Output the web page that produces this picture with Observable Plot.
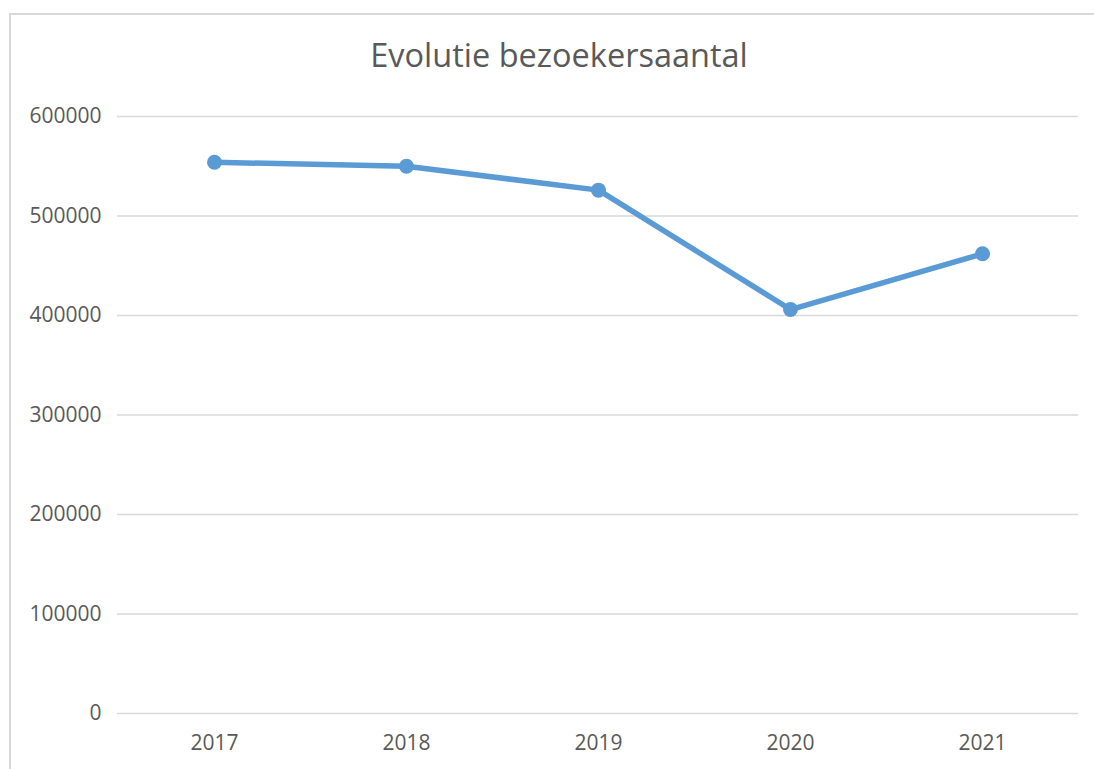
<!DOCTYPE html>
<html>
<head>
<meta charset="utf-8">
<script src="https://cdn.jsdelivr.net/npm/d3@7"></script>
<script src="https://cdn.jsdelivr.net/npm/@observablehq/plot@0.6"></script>
<style>
  body { margin: 0; background: #fff; width: 1094px; height: 769px; overflow: hidden; position: relative; font-family: "Open Sans", sans-serif; }
  #frame { position: absolute; left: 9px; top: 13px; width: 1200px; height: 900px; border-left: 2px solid #d9d9d9; border-top: 2px solid #d9d9d9; box-sizing: border-box; }
  #title { position: absolute; left: 0; width: 1118px; top: 39px; text-align: center; font-size: 32.5px; color: #595959; line-height: 1; }
  #chart { position: absolute; left: 0; top: 90px; }
</style>
</head>
<body>
<div id="frame"></div>
<div id="title">Evolutie bezoekersaantal</div>
<div id="chart"></div>
<script>
const years = ["2017", "2018", "2019", "2020", "2021"];
const visitors = [554000, 550000, 526000, 406000, 462000];
const yTicks = [0, 100000, 200000, 300000, 400000, 500000, 600000];

const data = years.map((y, i) => ({year: y, value: visitors[i]}));

const chart = Plot.plot({
  width: 1094,
  height: 679,
  marginTop: 26,
  marginBottom: 56,
  marginLeft: 117,
  marginRight: 16,
  style: {fontFamily: "Open Sans, sans-serif", fontSize: "21px", color: "#595959", background: "transparent"},
  x: {type: "point", domain: years, padding: 0.5, align: 0.5, label: null},
  y: {domain: [0, 600000], ticks: yTicks, label: null},
  marks: [
    Plot.gridY(yTicks, {stroke: "#d9d9d9", strokeOpacity: 1, strokeWidth: 1.5}),
    Plot.axisY(yTicks, {tickSize: 0, tickPadding: 16, tickFormat: d => String(d), fill: "#595959", fontSize: 21}),
    Plot.axisX(years, {tickSize: 0, tickPadding: 22, fill: "#595959", fontSize: 21}),
    Plot.line(data, {x: "year", y: "value", stroke: "#5b9bd5", strokeWidth: 5.5, strokeLinejoin: "round", strokeLinecap: "round"}),
    Plot.dot(data, {x: "year", y: "value", r: 7.5, fill: "#5b9bd5", stroke: "none"})
  ]
});
document.getElementById("chart").appendChild(chart);
</script>
</body>
</html>
